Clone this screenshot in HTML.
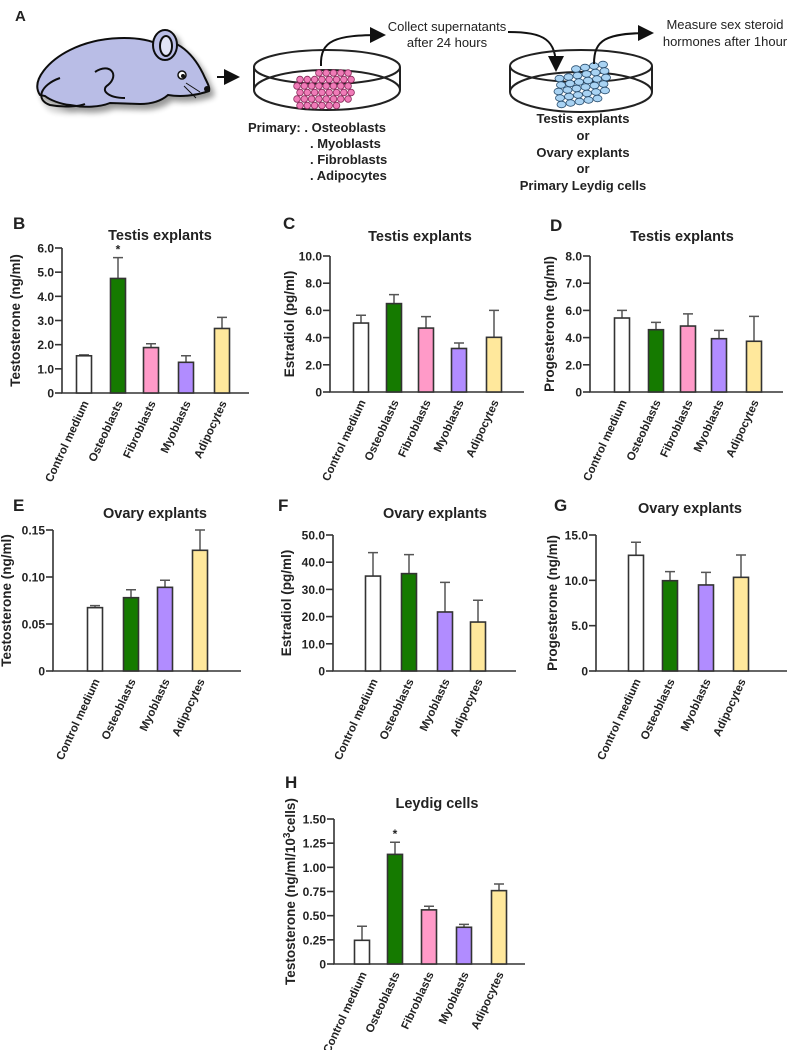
<!DOCTYPE html>
<html><head><meta charset="utf-8"><style>
html,body{margin:0;padding:0;background:#fff;}
svg{display:block;font-family:"Liberation Sans",Arial,sans-serif;}
.b{font-weight:bold;fill:#222;}
</style></head><body>
<svg id="fig" width="797" height="1050" viewBox="0 0 797 1050" xmlns="http://www.w3.org/2000/svg">
<defs>
<filter id="sh" x="-20%" y="-20%" width="150%" height="150%"><feGaussianBlur in="SourceAlpha" stdDeviation="3"/><feOffset dx="4" dy="5"/><feComponentTransfer><feFuncA type="linear" slope="0.4"/></feComponentTransfer><feMerge><feMergeNode/><feMergeNode in="SourceGraphic"/></feMerge></filter>
<marker id="ah" markerWidth="8" markerHeight="8" refX="6" refY="4" orient="auto"><path d="M0,0 L8,4 L0,8 z" fill="#111"/></marker>
</defs>
<g>
<text class="b" x="15" y="21" font-size="15">A</text>
<g filter="url(#sh)" stroke="#111" stroke-width="2" fill="#b9bde6">
<path d="M40,95 C30,80 50,60 70,50 C100,35 140,35 160,45 C175,35 195,55 205,78 C208,84 210,88 209,91 C195,96 180,97 168,95 C160,102 150,104 140,104 L110,103 C100,107 85,108 70,105 C60,104 50,100 45,96 Z"/>
<path d="M60,78 C40,85 35,100 50,105 C65,108 80,106 85,104" fill="none"/>
<path d="M95,72 C110,62 120,75 108,85 C100,90 108,98 125,98" fill="none"/>
<ellipse cx="165" cy="45" rx="12" ry="15"/>
<ellipse cx="166" cy="46" rx="6" ry="10" fill="#e2e4f6"/>
</g>
<circle cx="182" cy="75" r="4" fill="#fff" stroke="#111" stroke-width="1.5"/><circle cx="183" cy="76" r="2" fill="#111"/>
<circle cx="207" cy="89" r="3" fill="#111"/>
<path d="M186,83 L200,92 M184,86 L196,98" stroke="#111" stroke-width="1" fill="none"/>
<line x1="217" y1="77" x2="236" y2="77" stroke="#111" stroke-width="2" marker-end="url(#ah)"/>
<g fill="none" stroke="#222" stroke-width="2">
<ellipse cx="327" cy="67" rx="73" ry="17"/>
<ellipse cx="327" cy="90" rx="73" ry="20"/>
<line x1="254" y1="67" x2="254" y2="90"/><line x1="400" y1="67" x2="400" y2="90"/>
</g>
<g id="pinkcells"></g>
<path d="M321,66 C320,40 335,35 382,35" fill="none" stroke="#111" stroke-width="2" marker-end="url(#ah)"/>
<text x="447" y="31" font-size="13" text-anchor="middle" fill="#222">Collect supernatants</text>
<text x="447" y="47" font-size="13" text-anchor="middle" fill="#222">after 24 hours</text>
<path d="M508,32 C545,32 556,40 556,68" fill="none" stroke="#111" stroke-width="2" marker-end="url(#ah)"/>
<g fill="none" stroke="#222" stroke-width="2">
<ellipse cx="581" cy="66" rx="71" ry="16"/>
<ellipse cx="581" cy="92" rx="71" ry="20"/>
<line x1="510" y1="66" x2="510" y2="92"/><line x1="652" y1="66" x2="652" y2="92"/>
</g>
<g id="bluecells"></g>
<path d="M594,64 C594,40 605,33 650,33" fill="none" stroke="#111" stroke-width="2" marker-end="url(#ah)"/>
<text x="725" y="29" font-size="13" text-anchor="middle" fill="#222">Measure sex steroid</text>
<text x="725" y="46" font-size="13" text-anchor="middle" fill="#222">hormones after 1hour</text>
<g class="b" font-size="13">
<text x="248" y="132">Primary: . Osteoblasts</text>
<text x="310" y="148">. Myoblasts</text>
<text x="310" y="164">. Fibroblasts</text>
<text x="310" y="180">. Adipocytes</text>
</g>
<g class="b" font-size="13" text-anchor="middle">
<text x="583" y="123">Testis explants</text>
<text x="583" y="140">or</text>
<text x="583" y="157">Ovary explants</text>
<text x="583" y="173">or</text>
<text x="583" y="190">Primary Leydig cells</text>
</g>
</g>
<g id="charts"></g>
</svg>
<script>
// ---- data ----
const catsB = ["Control medium","Osteoblasts","Fibroblasts","Myoblasts","Adipocytes"];
const valsB = [1.54,4.74,1.88,1.27,2.67];
const errsB = [0.04,0.86,0.16,0.27,0.46];
const ticksB = [0,1,2,3,4,5,6];
const tickLabelsB = ["0","1.0","2.0","3.0","4.0","5.0","6.0"];

const catsC = ["Control medium","Osteoblasts","Fibroblasts","Myoblasts","Adipocytes"];
const valsC = [5.07,6.5,4.7,3.2,4.02];
const errsC = [0.57,0.66,0.84,0.4,1.98];
const ticksC = [0,2,4,6,8,10];
const tickLabelsC = ["0","2.0","4.0","6.0","8.0","10.0"];

const catsD = ["Control medium","Osteoblasts","Fibroblasts","Myoblasts","Adipocytes"];
const valsD = [5.44,4.58,4.85,3.92,3.73];
const errsD = [0.56,0.54,0.89,0.61,1.83];
const ticksD = [0,2,4,6,8,10];
const tickLabelsD = ["0","2.0","4.0","6.0","7.0","8.0"];

const catsE = ["Control medium","Osteoblasts","Myoblasts","Adipocytes"];
const valsE = [0.0674,0.078,0.089,0.1284];
const errsE = [0.0021,0.0085,0.0075,0.0216];
const ticksE = [0,0.05,0.10,0.15];
const tickLabelsE = ["0","0.05","0.10","0.15"];

const catsF = ["Control medium","Osteoblasts","Myoblasts","Adipocytes"];
const valsF = [34.9,35.8,21.7,18.0];
const errsF = [8.6,7.0,10.9,8.0];
const ticksF = [0,10,20,30,40,50];
const tickLabelsF = ["0","10.0","20.0","30.0","40.0","50.0"];

const catsG = ["Control medium","Osteoblasts","Myoblasts","Adipocytes"];
const valsG = [12.76,9.96,9.49,10.33];
const errsG = [1.44,1.0,1.39,2.47];
const ticksG = [0,5,10,15];
const tickLabelsG = ["0","5.0","10.0","15.0"];

const catsH = ["Control medium","Osteoblasts","Fibroblasts","Myoblasts","Adipocytes"];
const valsH = [0.245,1.134,0.56,0.38,0.759];
const errsH = [0.145,0.126,0.037,0.03,0.069];
const ticksH = [0,0.25,0.5,0.75,1.0,1.25,1.5];
const tickLabelsH = ["0","0.25","0.50","0.75","1.00","1.25","1.50"];

const colorOf = {"Control medium":"#ffffff","Osteoblasts":"#157a00","Fibroblasts":"#ff9ac8","Myoblasts":"#b18cff","Adipocytes":"#ffe89c"};
const NS = "http://www.w3.org/2000/svg";
function mk(tag, attrs, parent){const e=document.createElementNS(NS,tag);for(const k in attrs)e.setAttribute(k,attrs[k]);parent.appendChild(e);return e;}

// ---- cells in schematic ----
const pc=document.getElementById('pinkcells');
for(let r=0;r<6;r++)for(let c=0;c<8;c++){
  const x=297+c*7.3+(r%2)*3, y=73+r*6.5;
  if((r===0&&c<3)||(r===5&&c>5))continue;
  const cc=mk('circle',{cx:x,cy:y,r:3.3,fill:'#f07bb8',stroke:'#8a2c5c','stroke-width':0.8},pc);
  
  
}
const bc=document.getElementById('bluecells');
for(let r=0;r<6;r++)for(let c=0;c<6;c++){
  const x=558+c*9+r*1.5-(r>2?4:0), y=72+r*6.5-c*1.5;
  if((r===0&&c<2)||(r===5&&c>4))continue;
  const e=mk('ellipse',{cx:x,cy:y,rx:4.5,ry:3.3,fill:'#a9d3f3',stroke:'#2a4e6e','stroke-width':0.8},bc);
  
  
}

// ---- chart drawing ----
function panel(p){
  const root=document.getElementById('charts');
  const g=mk('g',{},root);
  
  
  const y=v=>p.y0-v/p.max*(p.y0-p.y1);
  const L=mk('text',{x:p.lx,y:p.ly+6,'font-size':17,class:'b'},g);L.textContent=p.letter;
  
  
  const T=mk('text',{x:p.tx,y:p.ty+5,'font-size':14.5,class:'b','text-anchor':'middle'},g);T.textContent=p.title;
  
  
  const YT=mk('text',{x:0,y:0,'font-size':13.5,class:'b','text-anchor':'middle',transform:`translate(${p.ytx+1},${(p.y0+p.y1)/2}) rotate(-90)`},g);
  
  
  if(p.sup){YT.appendChild(document.createTextNode(p.ytitle));const s=mk('tspan',{'font-size':10,dy:-5},YT);s.textContent='3';const s2=mk('tspan',{dy:5},YT);s2.textContent='cells)';}
  else YT.textContent=p.ytitle;
  const ax=mk('path',{d:`M${p.ax},${p.y1} L${p.ax},${p.y0} L${p.xend},${p.y0}`,fill:'none',stroke:'#333','stroke-width':1.6},g);
  
  
  p.ticks.forEach((t,i)=>{
    const tk=mk('line',{x1:p.ax-7,x2:p.ax,y1:y(t),y2:y(t),stroke:'#333','stroke-width':1.6},g);
    
    
    const tl=mk('text',{x:p.ax-8,y:y(t)+4.5,'font-size':12,class:'b','text-anchor':'end'},g);tl.textContent=p.tickLabels[i];
    
    
  });
  p.cats.forEach((c,i)=>{
    const cx=p.centers[i], w=15, top=y(p.vals[i]), et=y(p.vals[i]+p.errs[i]);
    const eb=mk('path',{d:`M${cx},${top} L${cx},${et} M${cx-5},${et} L${cx+5},${et}`,stroke:'#555','stroke-width':1.5,fill:'none'},g);
    
    
    const r=mk('rect',{x:cx-w/2,y:top,width:w,height:p.y0-top,fill:colorOf[c],stroke:'#333','stroke-width':1.6},g);
    
    
    const xl=mk('text',{x:0,y:0,'font-size':11.5,class:'b','text-anchor':'end',transform:`translate(${cx+5},${p.y0+10}) rotate(-65)`},g);xl.textContent=c;
    
    
    if(p.star===i){const st=mk('text',{x:cx,y:et-4,'font-size':12,class:'b','text-anchor':'middle'},g);st.textContent='*';
      
      }
  });
}
panel({letter:'B',lx:13,ly:223,title:'Testis explants',tx:160,ty:235,ytitle:'Testosterone (ng/ml)',ytx:19,ax:62,y0:393,y1:248,max:6,xend:249,centers:[84,118,151,186,222],cats:catsB,vals:valsB,errs:errsB,ticks:ticksB,tickLabels:tickLabelsB,star:1});
panel({letter:'C',lx:283,ly:223,title:'Testis explants',tx:420,ty:236,ytitle:'Estradiol (pg/ml)',ytx:293,ax:330,y0:392,y1:256,max:10,xend:524,centers:[361,394,426,459,494],cats:catsC,vals:valsC,errs:errsC,ticks:ticksC,tickLabels:tickLabelsC});
panel({letter:'D',lx:550,ly:225,title:'Testis explants',tx:682,ty:236,ytitle:'Progesterone (ng/ml)',ytx:553,ax:590,y0:392,y1:256,max:10,xend:783,centers:[622,656,688,719,754],cats:catsD,vals:valsD,errs:errsD,ticks:ticksD,tickLabels:tickLabelsD});
panel({letter:'E',lx:13,ly:505,title:'Ovary explants',tx:155,ty:513,ytitle:'Testosterone (ng/ml)',ytx:10,ax:53,y0:671,y1:530,max:0.15,xend:241,centers:[95,131,165,200],cats:catsE,vals:valsE,errs:errsE,ticks:ticksE,tickLabels:tickLabelsE});
panel({letter:'F',lx:278,ly:505,title:'Ovary explants',tx:435,ty:513,ytitle:'Estradiol (pg/ml)',ytx:290,ax:333,y0:671,y1:535,max:50,xend:516,centers:[373,409,445,478],cats:catsF,vals:valsF,errs:errsF,ticks:ticksF,tickLabels:tickLabelsF});
panel({letter:'G',lx:554,ly:505,title:'Ovary explants',tx:690,ty:508,ytitle:'Progesterone (ng/ml)',ytx:556,ax:596,y0:671,y1:535,max:15,xend:787,centers:[636,670,706,741],cats:catsG,vals:valsG,errs:errsG,ticks:ticksG,tickLabels:tickLabelsG});
panel({letter:'H',lx:285,ly:782,title:'Leydig cells',tx:437,ty:803,ytitle:'Testosterone (ng/ml/10',sup:true,ytx:294,ax:334,y0:964,y1:819,max:1.5,xend:525,centers:[362,395,429,464,499],cats:catsH,vals:valsH,errs:errsH,ticks:ticksH,tickLabels:tickLabelsH,star:1});
</script>
</body></html>
